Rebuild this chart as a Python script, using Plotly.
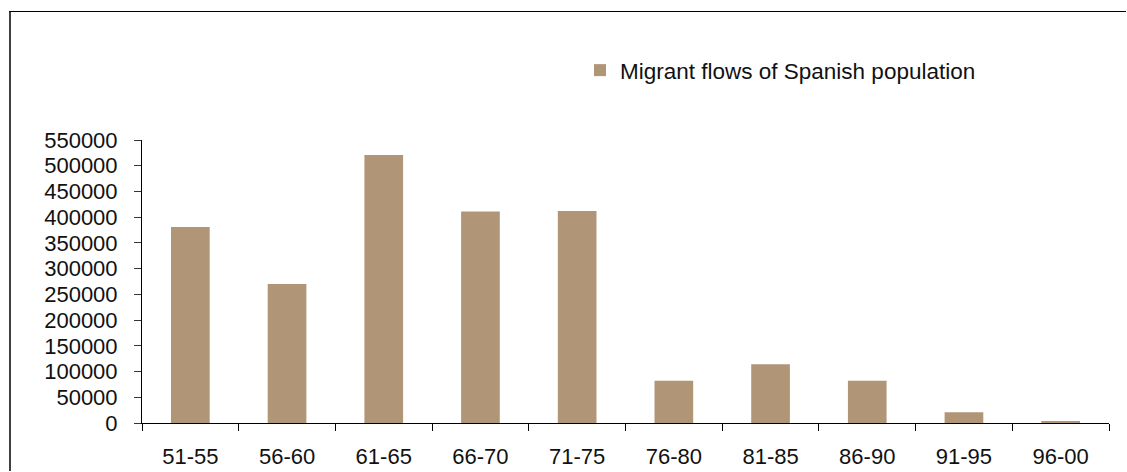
import plotly.graph_objects as go

# Five-year periods and the number of migrants in each
periods = ["51-55", "56-60", "61-65", "66-70", "71-75",
           "76-80", "81-85", "86-90", "91-95", "96-00"]
migrants = [381000, 270000, 521000, 411000, 412000,
            82000, 114000, 82000, 21000, 3500]
y_ticks = list(range(0, 550001, 50000))

W, H = 1127, 472
L, R, T, B = 142, 18, 140, 49
PW, PH = W - L - R, H - T - B


def px_x(p):
    return (p - L) / PW


def px_y(p):
    return (H - B - p) / PH


FONT = "Liberation Sans, Arial, sans-serif"
BAR_COLOR = "#B09577"
TEXT_COLOR = "#111111"

fig = go.Figure()
fig.add_trace(go.Bar(
    x=periods,
    y=migrants,
    name="Migrant flows of Spanish population",
    marker=dict(color=BAR_COLOR, line=dict(width=0)),
))

# outer frame: left and top edges of the chart box
fig.add_shape(type="line", xref="paper", yref="paper",
              x0=px_x(10), x1=px_x(10), y0=px_y(11), y1=px_y(H - 1),
              line=dict(color="#404040", width=2))
fig.add_shape(type="line", xref="paper", yref="paper",
              x0=px_x(9), x1=px_x(W - 1), y0=px_y(11.5), y1=px_y(11.5),
              line=dict(color="#000000", width=1))

fig.update_layout(
    width=W, height=H,
    margin=dict(l=L, r=R, t=T, b=B, pad=0, autoexpand=False),
    paper_bgcolor="white",
    plot_bgcolor="white",
    bargap=0.6,
    font=dict(family=FONT, size=22, color=TEXT_COLOR),
    showlegend=True,
    legend=dict(
        x=px_x(580), y=px_y(49), xanchor="left", yanchor="top",
        font=dict(family=FONT, size=22.5, color=TEXT_COLOR),
        bgcolor="rgba(0,0,0,0)",
        itemwidth=30,
    ),
    xaxis=dict(
        type="category",
        range=[-0.5, len(periods) - 0.5],
        automargin=False,
        showline=True, linecolor="#000000", linewidth=1,
        ticks="outside", ticklen=7, tickcolor="#000000",
        tickson="boundaries",
        showgrid=False, zeroline=False,
        tickfont=dict(family=FONT, size=22, color=TEXT_COLOR),
        ticklabelstandoff=14,
    ),
    yaxis=dict(
        range=[0, 550000],
        automargin=False,
        tickvals=y_ticks,
        ticktext=[str(v) for v in y_ticks],
        showline=True, linecolor="#000000", linewidth=1,
        ticks="outside", ticklen=7, tickcolor="#333333",
        showgrid=False, zeroline=False,
        tickfont=dict(family=FONT, size=22, color=TEXT_COLOR),
        ticklabelstandoff=12,
    ),
)

fig.write_html("out.html", config={"displayModeBar": False})
